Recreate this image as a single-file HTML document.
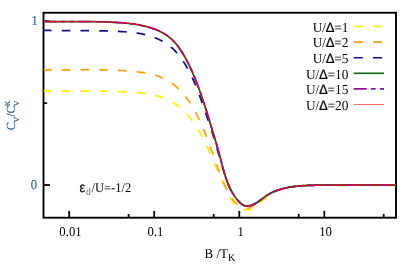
<!DOCTYPE html>
<html><head><meta charset="utf-8"><style>
html,body{margin:0;padding:0;background:#fff;}
svg{display:block;will-change:transform;}
text{font-family:"Liberation Serif",serif;font-size:14.0px;fill:#000;text-rendering:geometricPrecision;}
.sans{font-family:"Liberation Sans",sans-serif;}
.bl{fill:#2e6088;stroke:#2e6088;stroke-width:0.12px;}
.yl text{stroke:#2e6088;stroke-width:0.15px;}
</style></head><body>
<svg width="415" height="277" viewBox="0 0 415 277">
<rect width="415" height="277" fill="#fff"/>
<defs><clipPath id="cp"><rect x="43.5" y="12.75" width="352.5" height="204.95"/></clipPath></defs>
<rect x="43.5" y="12.75" width="352.5" height="204.95" fill="none" stroke="#000" stroke-width="1.9"/>
<g stroke="#000" stroke-width="1.8"><line x1="69.2" y1="217.7" x2="69.2" y2="210.89999999999998"/><line x1="154.2" y1="217.7" x2="154.2" y2="210.89999999999998"/><line x1="239.3" y1="217.7" x2="239.3" y2="210.89999999999998"/><line x1="324.3" y1="217.7" x2="324.3" y2="210.89999999999998"/><line x1="128.6" y1="217.7" x2="128.6" y2="213.89999999999998"/><line x1="213.7" y1="217.7" x2="213.7" y2="213.89999999999998"/><line x1="298.7" y1="217.7" x2="298.7" y2="213.89999999999998"/><line x1="383.7" y1="217.7" x2="383.7" y2="213.89999999999998"/><line x1="43.5" y1="21.25" x2="49.9" y2="21.25"/><line x1="43.5" y1="185.05" x2="49.9" y2="185.05"/><line x1="43.5" y1="103.15" x2="47.1" y2="103.15"/></g>
<g fill="none" stroke-linecap="butt" stroke-linejoin="round" clip-path="url(#cp)">
<path d="M43.50,90.89 L46.50,90.94 L49.50,90.98 L52.50,91.01 L55.50,91.03 L58.50,91.04 L61.50,91.05 L64.50,91.05 L67.50,91.05 L70.50,91.04 L73.50,91.03 L76.50,91.03 L79.50,91.02 L82.50,91.01 L85.50,91.01 L88.50,91.02 L91.50,91.02 L94.50,91.04 L97.50,91.06 L100.00,91.09 L101.50,91.11 L103.00,91.13 L104.50,91.16 L106.00,91.18 L107.50,91.21 L109.00,91.25 L110.50,91.29 L112.00,91.33 L113.50,91.37 L115.00,91.42 L116.50,91.48 L118.00,91.53 L119.50,91.59 L121.00,91.66 L122.50,91.73 L124.00,91.81 L125.50,91.89 L127.00,91.97 L128.50,92.06 L130.00,92.16 L131.50,92.26 L133.00,92.37 L134.50,92.48 L136.00,92.60 L137.50,92.72 L139.00,92.86 L140.50,93.00 L142.00,93.15 L143.50,93.31 L145.00,93.49 L146.50,93.69 L148.00,93.90 L149.50,94.14 L150.00,94.22 L150.50,94.31 L151.00,94.40 L151.50,94.49 L152.00,94.58 L152.50,94.68 L153.00,94.78 L153.50,94.89 L154.00,94.99 L154.50,95.10 L155.00,95.22 L155.50,95.33 L156.00,95.45 L156.50,95.58 L157.00,95.71 L157.50,95.84 L158.00,95.97 L158.50,96.12 L159.00,96.26 L159.50,96.41 L160.00,96.56 L160.50,96.72 L161.00,96.88 L161.50,97.05 L162.00,97.22 L162.50,97.40 L163.00,97.59 L163.50,97.78 L164.00,97.97 L164.50,98.17 L165.00,98.38 L165.50,98.59 L166.00,98.81 L166.50,99.03 L167.00,99.26 L167.50,99.49 L168.00,99.74 L168.50,99.98 L169.00,100.23 L169.50,100.49 L170.00,100.76 L170.50,101.03 L171.00,101.31 L171.50,101.59 L172.00,101.88 L172.50,102.18 L173.00,102.49 L173.50,102.79 L174.00,103.11 L174.50,103.44 L175.00,103.77 L175.50,104.11 L176.00,104.45 L176.50,104.81 L177.00,105.16 L177.50,105.53 L178.00,105.91 L178.50,106.29 L179.00,106.68 L179.50,107.09 L180.00,107.50 L180.50,107.91 L181.00,108.34 L181.50,108.77 L182.00,109.22 L182.50,109.67 L183.00,110.14 L183.50,110.61 L184.00,111.09 L184.50,111.58 L185.00,112.09 L185.50,112.60 L186.00,113.12 L186.50,113.66 L187.00,114.20 L187.50,114.75 L188.00,115.32 L188.50,115.90 L189.00,116.49 L189.50,117.09 L190.00,117.70 L190.50,118.33 L191.00,118.96 L191.50,119.61 L192.00,120.27 L192.50,120.95 L193.00,121.64 L193.50,122.34 L194.00,123.05 L194.50,123.78 L195.00,124.52 L195.50,125.27 L196.00,126.04 L196.50,126.82 L197.00,127.62 L197.50,128.43 L198.00,129.25 L198.50,130.09 L199.00,130.95 L199.50,131.82 L200.00,132.70 L200.50,133.60 L201.00,134.51 L201.50,135.44 L202.00,136.38 L202.50,137.33 L203.00,138.31 L203.50,139.29 L204.00,140.29 L204.50,141.30 L205.00,142.33 L205.50,143.37 L206.00,144.42 L206.50,145.49 L207.00,146.56 L207.50,147.65 L208.00,148.75 L208.50,149.86 L209.00,150.98 L209.50,152.10 L210.00,153.24 L210.50,154.39 L211.00,155.54 L211.50,156.70 L212.00,157.86 L212.50,159.03 L213.00,160.20 L213.50,161.37 L214.00,162.55 L214.50,163.73 L215.00,164.90 L215.50,166.08 L216.00,167.25 L216.50,168.42 L217.00,169.59 L217.50,170.75 L218.00,171.90 L218.50,173.05 L219.00,174.19 L219.50,175.32 L220.00,176.44 L220.50,177.55 L221.00,178.66 L221.50,179.75 L222.00,180.82 L222.50,181.88 L223.00,182.91 L223.50,183.91 L224.00,184.87 L224.50,185.81 L225.00,186.74 L225.50,187.69 L226.00,188.65 L226.50,189.67 L227.00,190.73 L227.50,191.83 L228.00,192.95 L228.50,194.09 L229.00,195.21 L229.50,196.30 L230.00,197.35 L230.50,198.36 L231.00,199.31 L231.50,200.19 L232.00,201.02 L232.50,201.79 L233.00,202.51 L233.50,203.18 L234.00,203.80 L234.50,204.37 L235.00,204.91 L235.50,205.40 L236.00,205.85 L236.50,206.28 L237.00,206.67 L237.50,207.04 L238.00,207.38 L238.50,207.70 L239.00,207.99 L239.50,208.26 L240.00,208.52 L240.50,208.75 L241.00,208.97 L241.50,209.16 L242.00,209.33 L242.50,209.49 L243.00,209.62 L243.50,209.73 L244.00,209.82 L244.50,209.88 L245.00,209.92 L245.50,209.95 L246.00,209.94 L246.50,209.92 L247.00,209.87 L247.50,209.80 L248.00,209.71 L248.50,209.60 L249.00,209.46 L249.50,209.30 L250.00,209.13 L250.50,208.93 L251.00,208.71 L251.50,208.48 L252.00,208.22 L252.50,207.95 L253.00,207.66 L253.50,207.35 L254.00,207.03 L254.50,206.69 L255.00,206.34 L255.50,205.98 L256.00,205.61 L256.50,205.23 L257.00,204.84 L257.50,204.45 L258.00,204.05 L258.50,203.65 L259.00,203.25 L259.50,202.84 L260.00,202.44 L260.50,202.03 L261.00,201.63 L261.50,201.24 L262.00,200.84 L262.50,200.45 L263.00,200.06 L263.50,199.67 L264.00,199.29 L264.50,198.91 L265.00,198.54 L265.50,198.17 L266.00,197.81 L266.50,197.45 L267.00,197.10 L267.50,196.75 L268.00,196.41 L268.50,196.08 L269.00,195.74 L269.50,195.41 L270.00,195.08 L270.50,194.76 L271.00,194.43 L271.50,194.12 L272.00,193.80 L272.50,193.50 L273.00,193.19 L273.50,192.90 L274.00,192.61 L274.50,192.33 L275.00,192.05 L275.50,191.78 L276.00,191.52 L276.50,191.27 L277.00,191.02 L277.50,190.79 L278.00,190.56 L278.50,190.33 L279.00,190.12 L279.50,189.92 L280.00,189.72 L280.50,189.53 L281.00,189.35 L281.50,189.17 L282.00,189.01 L282.50,188.85 L283.00,188.70 L283.50,188.55 L284.00,188.41 L284.50,188.28 L285.00,188.15 L285.50,188.03 L286.00,187.92 L286.50,187.81 L287.00,187.70 L287.50,187.60 L288.00,187.50 L288.50,187.41 L289.00,187.32 L289.50,187.23 L290.00,187.14 L290.50,187.06 L291.00,186.98 L291.50,186.91 L292.00,186.83 L292.50,186.76 L293.00,186.69 L293.50,186.62 L294.00,186.55 L294.50,186.49 L295.00,186.43 L295.50,186.37 L296.00,186.31 L296.50,186.25 L297.00,186.20 L297.50,186.15 L298.00,186.10 L298.50,186.05 L299.00,186.00 L299.50,185.96 L300.00,185.91 L301.50,185.79 L303.00,185.69 L304.50,185.59 L306.00,185.51 L307.50,185.44 L309.00,185.38 L310.50,185.33 L312.00,185.29 L313.50,185.26 L315.00,185.23 L316.50,185.22 L318.00,185.20 L319.50,185.19 L321.00,185.19 L322.50,185.19 L324.00,185.19 L325.50,185.19 L327.00,185.20 L328.50,185.20 L330.00,185.21 L334.00,185.20 L338.00,185.19 L342.00,185.18 L346.00,185.15 L350.00,185.12 L354.00,185.09 L358.00,185.05 L362.00,185.02 L366.00,184.99 L370.00,184.97 L374.00,184.95 L378.00,184.94 L382.00,184.94 L386.00,184.95 L390.00,184.98 L394.00,185.02 L396.00,185.05" stroke="#ffee00" stroke-width="1.75" stroke-dasharray="8.65 10.1" stroke-dashoffset="0.5"/>
<path d="M43.50,69.75 L46.50,69.80 L49.50,69.84 L52.50,69.87 L55.50,69.88 L58.50,69.89 L61.50,69.88 L64.50,69.87 L67.50,69.86 L70.50,69.84 L73.50,69.82 L76.50,69.79 L79.50,69.77 L82.50,69.76 L85.50,69.74 L88.50,69.74 L91.50,69.74 L94.50,69.75 L97.50,69.77 L100.00,69.80 L101.50,69.82 L103.00,69.84 L104.50,69.87 L106.00,69.90 L107.50,69.94 L109.00,69.98 L110.50,70.03 L112.00,70.08 L113.50,70.14 L115.00,70.20 L116.50,70.27 L118.00,70.34 L119.50,70.42 L121.00,70.50 L122.50,70.59 L124.00,70.69 L125.50,70.80 L127.00,70.91 L128.50,71.03 L130.00,71.16 L131.50,71.29 L133.00,71.43 L134.50,71.58 L136.00,71.74 L137.50,71.91 L139.00,72.09 L140.50,72.28 L142.00,72.48 L143.50,72.70 L145.00,72.94 L146.50,73.20 L148.00,73.48 L149.50,73.79 L150.00,73.89 L150.50,74.01 L151.00,74.12 L151.50,74.24 L152.00,74.36 L152.50,74.48 L153.00,74.61 L153.50,74.74 L154.00,74.88 L154.50,75.02 L155.00,75.16 L155.50,75.31 L156.00,75.47 L156.50,75.62 L157.00,75.79 L157.50,75.95 L158.00,76.12 L158.50,76.30 L159.00,76.48 L159.50,76.67 L160.00,76.86 L160.50,77.06 L161.00,77.26 L161.50,77.47 L162.00,77.69 L162.50,77.91 L163.00,78.14 L163.50,78.38 L164.00,78.62 L164.50,78.87 L165.00,79.12 L165.50,79.39 L166.00,79.66 L166.50,79.93 L167.00,80.22 L167.50,80.51 L168.00,80.81 L168.50,81.11 L169.00,81.42 L169.50,81.74 L170.00,82.07 L170.50,82.40 L171.00,82.74 L171.50,83.09 L172.00,83.45 L172.50,83.82 L173.00,84.19 L173.50,84.57 L174.00,84.96 L174.50,85.36 L175.00,85.76 L175.50,86.18 L176.00,86.60 L176.50,87.04 L177.00,87.48 L177.50,87.93 L178.00,88.39 L178.50,88.86 L179.00,89.34 L179.50,89.83 L180.00,90.33 L180.50,90.84 L181.00,91.37 L181.50,91.90 L182.00,92.45 L182.50,93.00 L183.00,93.57 L183.50,94.15 L184.00,94.74 L184.50,95.34 L185.00,95.96 L185.50,96.59 L186.00,97.23 L186.50,97.88 L187.00,98.55 L187.50,99.23 L188.00,99.92 L188.50,100.63 L189.00,101.35 L189.50,102.09 L190.00,102.84 L190.50,103.61 L191.00,104.39 L191.50,105.18 L192.00,105.99 L192.50,106.82 L193.00,107.66 L193.50,108.52 L194.00,109.39 L194.50,110.28 L195.00,111.19 L195.50,112.11 L196.00,113.05 L196.50,114.00 L197.00,114.98 L197.50,115.97 L198.00,116.98 L198.50,118.00 L199.00,119.04 L199.50,120.10 L200.00,121.18 L200.50,122.28 L201.00,123.39 L201.50,124.53 L202.00,125.67 L202.50,126.84 L203.00,128.03 L203.50,129.23 L204.00,130.45 L204.50,131.68 L205.00,132.93 L205.50,134.20 L206.00,135.48 L206.50,136.78 L207.00,138.09 L207.50,139.41 L208.00,140.75 L208.50,142.10 L209.00,143.46 L209.50,144.83 L210.00,146.21 L210.50,147.60 L211.00,149.00 L211.50,150.40 L212.00,151.80 L212.50,153.21 L213.00,154.62 L213.50,156.03 L214.00,157.44 L214.50,158.84 L215.00,160.24 L215.50,161.64 L216.00,163.03 L216.50,164.41 L217.00,165.79 L217.50,167.15 L218.00,168.50 L218.50,169.85 L219.00,171.18 L219.50,172.49 L220.00,173.80 L220.50,175.08 L221.00,176.36 L221.50,177.61 L222.00,178.85 L222.50,180.07 L223.00,181.26 L223.50,182.44 L224.00,183.60 L224.50,184.74 L225.00,185.85 L225.50,186.94 L226.00,188.01 L226.50,189.06 L227.00,190.08 L227.50,191.08 L228.00,192.05 L228.50,192.99 L229.00,193.89 L229.50,194.76 L230.00,195.60 L230.50,196.40 L231.00,197.17 L231.50,197.90 L232.00,198.61 L232.50,199.28 L233.00,199.92 L233.50,200.54 L234.00,201.13 L234.50,201.70 L235.00,202.24 L235.50,202.75 L236.00,203.25 L236.50,203.72 L237.00,204.18 L237.50,204.62 L238.00,205.04 L238.50,205.43 L239.00,205.82 L239.50,206.17 L240.00,206.50 L240.50,206.82 L241.00,207.10 L241.50,207.36 L242.00,207.61 L242.50,207.82 L243.00,208.01 L243.50,208.17 L244.00,208.30 L244.50,208.41 L245.00,208.48 L245.50,208.53 L246.00,208.55 L246.50,208.52 L247.00,208.47 L247.50,208.38 L248.00,208.27 L248.50,208.13 L249.00,207.97 L249.50,207.78 L250.00,207.58 L250.50,207.35 L251.00,207.11 L251.50,206.86 L252.00,206.59 L252.50,206.32 L253.00,206.03 L253.50,205.73 L254.00,205.42 L254.50,205.10 L255.00,204.77 L255.50,204.43 L256.00,204.08 L256.50,203.73 L257.00,203.37 L257.50,203.00 L258.00,202.63 L258.50,202.25 L259.00,201.87 L259.50,201.48 L260.00,201.08 L260.50,200.69 L261.00,200.29 L261.50,199.89 L262.00,199.49 L262.50,199.09 L263.00,198.69 L263.50,198.29 L264.00,197.90 L264.50,197.51 L265.00,197.13 L265.50,196.75 L266.00,196.38 L266.50,196.02 L267.00,195.67 L267.50,195.33 L268.00,194.99 L268.50,194.67 L269.00,194.36 L269.50,194.05 L270.00,193.76 L270.50,193.48 L271.00,193.20 L271.50,192.93 L272.00,192.67 L272.50,192.42 L273.00,192.18 L273.50,191.94 L274.00,191.71 L274.50,191.49 L275.00,191.28 L275.50,191.07 L276.00,190.86 L276.50,190.67 L277.00,190.48 L277.50,190.29 L278.00,190.12 L278.50,189.94 L279.00,189.77 L279.50,189.61 L280.00,189.45 L280.50,189.30 L281.00,189.15 L281.50,189.01 L282.00,188.87 L282.50,188.74 L283.00,188.61 L283.50,188.48 L284.00,188.36 L284.50,188.24 L285.00,188.12 L285.50,188.01 L286.00,187.90 L286.50,187.80 L287.00,187.70 L287.50,187.60 L288.00,187.50 L288.50,187.41 L289.00,187.32 L289.50,187.23 L290.00,187.15 L290.50,187.06 L291.00,186.98 L291.50,186.91 L292.00,186.83 L292.50,186.76 L293.00,186.69 L293.50,186.62 L294.00,186.55 L294.50,186.49 L295.00,186.43 L295.50,186.37 L296.00,186.31 L296.50,186.25 L297.00,186.20 L297.50,186.15 L298.00,186.10 L298.50,186.05 L299.00,186.00 L299.50,185.96 L300.00,185.91 L301.50,185.79 L303.00,185.69 L304.50,185.59 L306.00,185.51 L307.50,185.44 L309.00,185.38 L310.50,185.33 L312.00,185.29 L313.50,185.26 L315.00,185.23 L316.50,185.22 L318.00,185.20 L319.50,185.19 L321.00,185.19 L322.50,185.19 L324.00,185.19 L325.50,185.19 L327.00,185.20 L328.50,185.20 L330.00,185.21 L334.00,185.20 L338.00,185.19 L342.00,185.18 L346.00,185.15 L350.00,185.12 L354.00,185.09 L358.00,185.05 L362.00,185.02 L366.00,184.99 L370.00,184.97 L374.00,184.95 L378.00,184.94 L382.00,184.94 L386.00,184.95 L390.00,184.98 L394.00,185.02 L396.00,185.05" stroke="#ffa010" stroke-width="1.75" stroke-dasharray="8.65 10.1" stroke-dashoffset="0.5"/>
<path d="M43.50,30.40 L46.50,30.44 L49.50,30.48 L52.50,30.51 L55.50,30.54 L58.50,30.56 L61.50,30.57 L64.50,30.58 L67.50,30.59 L70.50,30.60 L73.50,30.61 L76.50,30.62 L79.50,30.63 L82.50,30.64 L85.50,30.66 L88.50,30.68 L91.50,30.71 L94.50,30.75 L97.50,30.79 L100.00,30.84 L101.50,30.87 L103.00,30.90 L104.50,30.94 L106.00,30.98 L107.50,31.02 L109.00,31.07 L110.50,31.12 L112.00,31.17 L113.50,31.23 L115.00,31.29 L116.50,31.35 L118.00,31.42 L119.50,31.49 L121.00,31.57 L122.50,31.66 L124.00,31.75 L125.50,31.85 L127.00,31.97 L128.50,32.09 L130.00,32.23 L131.50,32.38 L133.00,32.55 L134.50,32.74 L136.00,32.94 L137.50,33.17 L139.00,33.41 L140.50,33.68 L142.00,33.98 L143.50,34.30 L145.00,34.64 L146.50,35.02 L148.00,35.43 L149.50,35.86 L150.00,36.02 L150.50,36.18 L151.00,36.34 L151.50,36.50 L152.00,36.67 L152.50,36.84 L153.00,37.02 L153.50,37.20 L154.00,37.39 L154.50,37.58 L155.00,37.77 L155.50,37.97 L156.00,38.17 L156.50,38.38 L157.00,38.59 L157.50,38.81 L158.00,39.03 L158.50,39.26 L159.00,39.50 L159.50,39.73 L160.00,39.98 L160.50,40.23 L161.00,40.48 L161.50,40.75 L162.00,41.01 L162.50,41.29 L163.00,41.57 L163.50,41.86 L164.00,42.15 L164.50,42.45 L165.00,42.76 L165.50,43.07 L166.00,43.40 L166.50,43.73 L167.00,44.07 L167.50,44.42 L168.00,44.78 L168.50,45.14 L169.00,45.52 L169.50,45.90 L170.00,46.30 L170.50,46.71 L171.00,47.13 L171.50,47.56 L172.00,48.00 L172.50,48.45 L173.00,48.92 L173.50,49.40 L174.00,49.89 L174.50,50.40 L175.00,50.91 L175.50,51.44 L176.00,51.99 L176.50,52.54 L177.00,53.11 L177.50,53.70 L178.00,54.30 L178.50,54.91 L179.00,55.53 L179.50,56.17 L180.00,56.83 L180.50,57.49 L181.00,58.18 L181.50,58.87 L182.00,59.58 L182.50,60.31 L183.00,61.05 L183.50,61.80 L184.00,62.57 L184.50,63.35 L185.00,64.15 L185.50,64.96 L186.00,65.79 L186.50,66.64 L187.00,67.50 L187.50,68.38 L188.00,69.28 L188.50,70.19 L189.00,71.13 L189.50,72.08 L190.00,73.05 L190.50,74.04 L191.00,75.05 L191.50,76.08 L192.00,77.13 L192.50,78.20 L193.00,79.29 L193.50,80.41 L194.00,81.54 L194.50,82.70 L195.00,83.87 L195.50,85.07 L196.00,86.29 L196.50,87.53 L197.00,88.79 L197.50,90.08 L198.00,91.38 L198.50,92.70 L199.00,94.04 L199.50,95.40 L200.00,96.77 L200.50,98.16 L201.00,99.56 L201.50,100.98 L202.00,102.41 L202.50,103.84 L203.00,105.29 L203.50,106.74 L204.00,108.19 L204.50,109.65 L205.00,111.10 L205.50,112.55 L206.00,114.00 L206.50,115.45 L207.00,116.89 L207.50,118.34 L208.00,119.79 L208.50,121.24 L209.00,122.70 L209.50,124.16 L210.00,125.64 L210.50,127.12 L211.00,128.62 L211.50,130.14 L212.00,131.67 L212.50,133.22 L213.00,134.80 L213.50,136.40 L214.00,138.03 L214.50,139.70 L215.00,141.38 L215.50,143.09 L216.00,144.81 L216.50,146.54 L217.00,148.28 L217.50,150.03 L218.00,151.77 L218.50,153.51 L219.00,155.24 L219.50,156.97 L220.00,158.68 L220.50,160.38 L221.00,162.08 L221.50,163.77 L222.00,165.46 L222.50,167.14 L223.00,168.81 L223.50,170.46 L224.00,172.09 L224.50,173.69 L225.00,175.26 L225.50,176.79 L226.00,178.27 L226.50,179.71 L227.00,181.11 L227.50,182.45 L228.00,183.73 L228.50,184.97 L229.00,186.15 L229.50,187.27 L230.00,188.35 L230.50,189.37 L231.00,190.35 L231.50,191.28 L232.00,192.17 L232.50,193.02 L233.00,193.84 L233.50,194.63 L234.00,195.39 L234.50,196.13 L235.00,196.84 L235.50,197.53 L236.00,198.19 L236.50,198.84 L237.00,199.46 L237.50,200.06 L238.00,200.64 L238.50,201.20 L239.00,201.74 L239.50,202.25 L240.00,202.73 L240.50,203.19 L241.00,203.61 L241.50,203.99 L242.00,204.35 L242.50,204.68 L243.00,204.96 L243.50,205.22 L244.00,205.43 L244.50,205.61 L245.00,205.77 L245.50,205.87 L246.00,205.96 L246.50,206.00 L247.00,206.03 L247.50,206.02 L248.00,205.99 L248.50,205.94 L249.00,205.86 L249.50,205.77 L250.00,205.65 L250.50,205.53 L251.00,205.38 L251.50,205.22 L252.00,205.03 L252.50,204.84 L253.00,204.63 L253.50,204.41 L254.00,204.17 L254.50,203.92 L255.00,203.66 L255.50,203.38 L256.00,203.10 L256.50,202.79 L257.00,202.48 L257.50,202.15 L258.00,201.82 L258.50,201.48 L259.00,201.12 L259.50,200.76 L260.00,200.40 L260.50,200.02 L261.00,199.65 L261.50,199.26 L262.00,198.88 L262.50,198.50 L263.00,198.12 L263.50,197.74 L264.00,197.37 L264.50,197.00 L265.00,196.64 L265.50,196.29 L266.00,195.95 L266.50,195.61 L267.00,195.29 L267.50,194.98 L268.00,194.67 L268.50,194.38 L269.00,194.09 L269.50,193.81 L270.00,193.54 L270.50,193.27 L271.00,193.01 L271.50,192.76 L272.00,192.52 L272.50,192.29 L273.00,192.05 L273.50,191.83 L274.00,191.62 L274.50,191.41 L275.00,191.20 L275.50,191.00 L276.00,190.81 L276.50,190.62 L277.00,190.44 L277.50,190.26 L278.00,190.09 L278.50,189.92 L279.00,189.76 L279.50,189.60 L280.00,189.44 L280.50,189.29 L281.00,189.15 L281.50,189.01 L282.00,188.87 L282.50,188.74 L283.00,188.61 L283.50,188.48 L284.00,188.36 L284.50,188.24 L285.00,188.12 L285.50,188.01 L286.00,187.90 L286.50,187.80 L287.00,187.70 L287.50,187.60 L288.00,187.50 L288.50,187.41 L289.00,187.32 L289.50,187.23 L290.00,187.15 L290.50,187.06 L291.00,186.98 L291.50,186.91 L292.00,186.83 L292.50,186.76 L293.00,186.69 L293.50,186.62 L294.00,186.55 L294.50,186.49 L295.00,186.43 L295.50,186.37 L296.00,186.31 L296.50,186.25 L297.00,186.20 L297.50,186.15 L298.00,186.10 L298.50,186.05 L299.00,186.00 L299.50,185.96 L300.00,185.91 L301.50,185.79 L303.00,185.69 L304.50,185.59 L306.00,185.51 L307.50,185.44 L309.00,185.38 L310.50,185.33 L312.00,185.29 L313.50,185.26 L315.00,185.23 L316.50,185.22 L318.00,185.20 L319.50,185.19 L321.00,185.19 L322.50,185.19 L324.00,185.19 L325.50,185.19 L327.00,185.20 L328.50,185.20 L330.00,185.21 L334.00,185.20 L338.00,185.19 L342.00,185.18 L346.00,185.15 L350.00,185.12 L354.00,185.09 L358.00,185.05 L362.00,185.02 L366.00,184.99 L370.00,184.97 L374.00,184.95 L378.00,184.94 L382.00,184.94 L386.00,184.95 L390.00,184.98 L394.00,185.02 L396.00,185.05" stroke="#10108c" stroke-width="1.75" stroke-dasharray="8.65 10.1" stroke-dashoffset="0.5"/>
<path d="M43.50,21.45 L46.50,21.51 L49.50,21.55 L52.50,21.58 L55.50,21.60 L58.50,21.62 L61.50,21.62 L64.50,21.63 L67.50,21.62 L70.50,21.62 L73.50,21.61 L76.50,21.61 L79.50,21.61 L82.50,21.61 L85.50,21.62 L88.50,21.64 L91.50,21.66 L94.50,21.70 L97.50,21.75 L100.00,21.80 L101.50,21.83 L103.00,21.87 L104.50,21.91 L106.00,21.96 L107.50,22.01 L109.00,22.07 L110.50,22.13 L112.00,22.20 L113.50,22.27 L115.00,22.35 L116.50,22.43 L118.00,22.52 L119.50,22.62 L121.00,22.73 L122.50,22.84 L124.00,22.97 L125.50,23.10 L127.00,23.25 L128.50,23.40 L130.00,23.58 L131.50,23.76 L133.00,23.96 L134.50,24.18 L136.00,24.41 L137.50,24.66 L139.00,24.92 L140.50,25.21 L142.00,25.52 L143.50,25.85 L145.00,26.20 L146.50,26.58 L148.00,26.98 L149.50,27.41 L150.00,27.56 L150.50,27.72 L151.00,27.88 L151.50,28.04 L152.00,28.21 L152.50,28.38 L153.00,28.55 L153.50,28.73 L154.00,28.91 L154.50,29.09 L155.00,29.29 L155.50,29.48 L156.00,29.68 L156.50,29.88 L157.00,30.09 L157.50,30.31 L158.00,30.52 L158.50,30.75 L159.00,30.98 L159.50,31.22 L160.00,31.46 L160.50,31.70 L161.00,31.96 L161.50,32.22 L162.00,32.48 L162.50,32.76 L163.00,33.03 L163.50,33.32 L164.00,33.62 L164.50,33.92 L165.00,34.23 L165.50,34.55 L166.00,34.87 L166.50,35.21 L167.00,35.55 L167.50,35.91 L168.00,36.27 L168.50,36.65 L169.00,37.03 L169.50,37.43 L170.00,37.84 L170.50,38.26 L171.00,38.69 L171.50,39.14 L172.00,39.60 L172.50,40.08 L173.00,40.57 L173.50,41.08 L174.00,41.60 L174.50,42.14 L175.00,42.70 L175.50,43.27 L176.00,43.86 L176.50,44.46 L177.00,45.08 L177.50,45.72 L178.00,46.38 L178.50,47.05 L179.00,47.73 L179.50,48.44 L180.00,49.16 L180.50,49.90 L181.00,50.65 L181.50,51.42 L182.00,52.21 L182.50,53.01 L183.00,53.83 L183.50,54.67 L184.00,55.52 L184.50,56.39 L185.00,57.27 L185.50,58.17 L186.00,59.09 L186.50,60.03 L187.00,60.98 L187.50,61.94 L188.00,62.92 L188.50,63.92 L189.00,64.93 L189.50,65.96 L190.00,67.01 L190.50,68.07 L191.00,69.14 L191.50,70.23 L192.00,71.34 L192.50,72.47 L193.00,73.61 L193.50,74.78 L194.00,75.96 L194.50,77.16 L195.00,78.37 L195.50,79.61 L196.00,80.86 L196.50,82.14 L197.00,83.43 L197.50,84.74 L198.00,86.08 L198.50,87.43 L199.00,88.80 L199.50,90.18 L200.00,91.59 L200.50,93.01 L201.00,94.46 L201.50,95.92 L202.00,97.39 L202.50,98.88 L203.00,100.39 L203.50,101.91 L204.00,103.44 L204.50,104.99 L205.00,106.55 L205.50,108.11 L206.00,109.69 L206.50,111.27 L207.00,112.85 L207.50,114.44 L208.00,116.04 L208.50,117.65 L209.00,119.25 L209.50,120.87 L210.00,122.49 L210.50,124.12 L211.00,125.76 L211.50,127.40 L212.00,129.05 L212.50,130.71 L213.00,132.38 L213.50,134.06 L214.00,135.75 L214.50,137.44 L215.00,139.15 L215.50,140.87 L216.00,142.59 L216.50,144.33 L217.00,146.08 L217.50,147.84 L218.00,149.62 L218.50,151.41 L219.00,153.21 L219.50,155.02 L220.00,156.86 L220.50,158.70 L221.00,160.57 L221.50,162.45 L222.00,164.34 L222.50,166.22 L223.00,168.07 L223.50,169.90 L224.00,171.68 L224.50,173.40 L225.00,175.06 L225.50,176.66 L226.00,178.20 L226.50,179.66 L227.00,181.07 L227.50,182.41 L228.00,183.69 L228.50,184.91 L229.00,186.08 L229.50,187.20 L230.00,188.27 L230.50,189.29 L231.00,190.27 L231.50,191.21 L232.00,192.11 L232.50,192.97 L233.00,193.81 L233.50,194.61 L234.00,195.38 L234.50,196.12 L235.00,196.83 L235.50,197.53 L236.00,198.19 L236.50,198.84 L237.00,199.46 L237.50,200.06 L238.00,200.64 L238.50,201.20 L239.00,201.74 L239.50,202.25 L240.00,202.73 L240.50,203.19 L241.00,203.61 L241.50,203.99 L242.00,204.35 L242.50,204.68 L243.00,204.96 L243.50,205.22 L244.00,205.43 L244.50,205.61 L245.00,205.77 L245.50,205.87 L246.00,205.96 L246.50,206.00 L247.00,206.03 L247.50,206.02 L248.00,205.99 L248.50,205.94 L249.00,205.86 L249.50,205.77 L250.00,205.65 L250.50,205.53 L251.00,205.38 L251.50,205.22 L252.00,205.03 L252.50,204.84 L253.00,204.63 L253.50,204.41 L254.00,204.17 L254.50,203.92 L255.00,203.66 L255.50,203.38 L256.00,203.10 L256.50,202.79 L257.00,202.48 L257.50,202.15 L258.00,201.82 L258.50,201.48 L259.00,201.12 L259.50,200.76 L260.00,200.40 L260.50,200.02 L261.00,199.65 L261.50,199.26 L262.00,198.88 L262.50,198.50 L263.00,198.12 L263.50,197.74 L264.00,197.37 L264.50,197.00 L265.00,196.64 L265.50,196.29 L266.00,195.95 L266.50,195.61 L267.00,195.29 L267.50,194.98 L268.00,194.67 L268.50,194.38 L269.00,194.09 L269.50,193.81 L270.00,193.54 L270.50,193.27 L271.00,193.01 L271.50,192.76 L272.00,192.52 L272.50,192.29 L273.00,192.05 L273.50,191.83 L274.00,191.62 L274.50,191.41 L275.00,191.20 L275.50,191.00 L276.00,190.81 L276.50,190.62 L277.00,190.44 L277.50,190.26 L278.00,190.09 L278.50,189.92 L279.00,189.76 L279.50,189.60 L280.00,189.44 L280.50,189.29 L281.00,189.15 L281.50,189.01 L282.00,188.87 L282.50,188.74 L283.00,188.61 L283.50,188.48 L284.00,188.36 L284.50,188.24 L285.00,188.12 L285.50,188.01 L286.00,187.90 L286.50,187.80 L287.00,187.70 L287.50,187.60 L288.00,187.50 L288.50,187.41 L289.00,187.32 L289.50,187.23 L290.00,187.15 L290.50,187.06 L291.00,186.98 L291.50,186.91 L292.00,186.83 L292.50,186.76 L293.00,186.69 L293.50,186.62 L294.00,186.55 L294.50,186.49 L295.00,186.43 L295.50,186.37 L296.00,186.31 L296.50,186.25 L297.00,186.20 L297.50,186.15 L298.00,186.10 L298.50,186.05 L299.00,186.00 L299.50,185.96 L300.00,185.91 L301.50,185.79 L303.00,185.69 L304.50,185.59 L306.00,185.51 L307.50,185.44 L309.00,185.38 L310.50,185.33 L312.00,185.29 L313.50,185.26 L315.00,185.23 L316.50,185.22 L318.00,185.20 L319.50,185.19 L321.00,185.19 L322.50,185.19 L324.00,185.19 L325.50,185.19 L327.00,185.20 L328.50,185.20 L330.00,185.21 L334.00,185.20 L338.00,185.19 L342.00,185.18 L346.00,185.15 L350.00,185.12 L354.00,185.09 L358.00,185.05 L362.00,185.02 L366.00,184.99 L370.00,184.97 L374.00,184.95 L378.00,184.94 L382.00,184.94 L386.00,184.95 L390.00,184.98 L394.00,185.02 L396.00,185.05" stroke="#0c6a0c" stroke-width="1.75"/>
<path d="M43.50,21.45 L46.50,21.51 L49.50,21.55 L52.50,21.58 L55.50,21.60 L58.50,21.62 L61.50,21.62 L64.50,21.63 L67.50,21.62 L70.50,21.62 L73.50,21.61 L76.50,21.61 L79.50,21.61 L82.50,21.61 L85.50,21.62 L88.50,21.64 L91.50,21.66 L94.50,21.70 L97.50,21.75 L100.00,21.80 L101.50,21.83 L103.00,21.87 L104.50,21.91 L106.00,21.96 L107.50,22.01 L109.00,22.07 L110.50,22.13 L112.00,22.20 L113.50,22.27 L115.00,22.35 L116.50,22.43 L118.00,22.52 L119.50,22.62 L121.00,22.73 L122.50,22.84 L124.00,22.97 L125.50,23.10 L127.00,23.25 L128.50,23.40 L130.00,23.58 L131.50,23.76 L133.00,23.96 L134.50,24.18 L136.00,24.41 L137.50,24.66 L139.00,24.92 L140.50,25.21 L142.00,25.52 L143.50,25.85 L145.00,26.20 L146.50,26.58 L148.00,26.98 L149.50,27.41 L150.00,27.56 L150.50,27.72 L151.00,27.88 L151.50,28.04 L152.00,28.21 L152.50,28.38 L153.00,28.55 L153.50,28.73 L154.00,28.91 L154.50,29.09 L155.00,29.29 L155.50,29.48 L156.00,29.68 L156.50,29.88 L157.00,30.09 L157.50,30.31 L158.00,30.52 L158.50,30.75 L159.00,30.98 L159.50,31.22 L160.00,31.46 L160.50,31.70 L161.00,31.96 L161.50,32.22 L162.00,32.48 L162.50,32.76 L163.00,33.03 L163.50,33.32 L164.00,33.62 L164.50,33.92 L165.00,34.23 L165.50,34.55 L166.00,34.87 L166.50,35.21 L167.00,35.55 L167.50,35.91 L168.00,36.27 L168.50,36.65 L169.00,37.03 L169.50,37.43 L170.00,37.84 L170.50,38.26 L171.00,38.69 L171.50,39.14 L172.00,39.60 L172.50,40.08 L173.00,40.57 L173.50,41.08 L174.00,41.60 L174.50,42.14 L175.00,42.70 L175.50,43.27 L176.00,43.86 L176.50,44.46 L177.00,45.08 L177.50,45.72 L178.00,46.38 L178.50,47.05 L179.00,47.73 L179.50,48.44 L180.00,49.16 L180.50,49.90 L181.00,50.65 L181.50,51.42 L182.00,52.21 L182.50,53.01 L183.00,53.83 L183.50,54.67 L184.00,55.52 L184.50,56.39 L185.00,57.27 L185.50,58.17 L186.00,59.09 L186.50,60.03 L187.00,60.98 L187.50,61.94 L188.00,62.92 L188.50,63.92 L189.00,64.93 L189.50,65.96 L190.00,67.01 L190.50,68.07 L191.00,69.14 L191.50,70.23 L192.00,71.34 L192.50,72.47 L193.00,73.61 L193.50,74.78 L194.00,75.96 L194.50,77.16 L195.00,78.37 L195.50,79.61 L196.00,80.86 L196.50,82.14 L197.00,83.43 L197.50,84.74 L198.00,86.08 L198.50,87.43 L199.00,88.80 L199.50,90.18 L200.00,91.59 L200.50,93.01 L201.00,94.46 L201.50,95.92 L202.00,97.39 L202.50,98.88 L203.00,100.39 L203.50,101.91 L204.00,103.44 L204.50,104.99 L205.00,106.55 L205.50,108.11 L206.00,109.69 L206.50,111.27 L207.00,112.85 L207.50,114.44 L208.00,116.04 L208.50,117.65 L209.00,119.25 L209.50,120.87 L210.00,122.49 L210.50,124.12 L211.00,125.76 L211.50,127.40 L212.00,129.05 L212.50,130.71 L213.00,132.38 L213.50,134.06 L214.00,135.75 L214.50,137.44 L215.00,139.15 L215.50,140.87 L216.00,142.59 L216.50,144.33 L217.00,146.08 L217.50,147.84 L218.00,149.62 L218.50,151.41 L219.00,153.21 L219.50,155.02 L220.00,156.86 L220.50,158.70 L221.00,160.57 L221.50,162.45 L222.00,164.34 L222.50,166.22 L223.00,168.07 L223.50,169.90 L224.00,171.68 L224.50,173.40 L225.00,175.06 L225.50,176.66 L226.00,178.20 L226.50,179.66 L227.00,181.07 L227.50,182.41 L228.00,183.69 L228.50,184.91 L229.00,186.08 L229.50,187.20 L230.00,188.27 L230.50,189.29 L231.00,190.27 L231.50,191.21 L232.00,192.11 L232.50,192.97 L233.00,193.81 L233.50,194.61 L234.00,195.38 L234.50,196.12 L235.00,196.83 L235.50,197.53 L236.00,198.19 L236.50,198.84 L237.00,199.46 L237.50,200.06 L238.00,200.64 L238.50,201.20 L239.00,201.74 L239.50,202.25 L240.00,202.73 L240.50,203.19 L241.00,203.61 L241.50,203.99 L242.00,204.35 L242.50,204.68 L243.00,204.96 L243.50,205.22 L244.00,205.43 L244.50,205.61 L245.00,205.77 L245.50,205.87 L246.00,205.96 L246.50,206.00 L247.00,206.03 L247.50,206.02 L248.00,205.99 L248.50,205.94 L249.00,205.86 L249.50,205.77 L250.00,205.65 L250.50,205.53 L251.00,205.38 L251.50,205.22 L252.00,205.03 L252.50,204.84 L253.00,204.63 L253.50,204.41 L254.00,204.17 L254.50,203.92 L255.00,203.66 L255.50,203.38 L256.00,203.10 L256.50,202.79 L257.00,202.48 L257.50,202.15 L258.00,201.82 L258.50,201.48 L259.00,201.12 L259.50,200.76 L260.00,200.40 L260.50,200.02 L261.00,199.65 L261.50,199.26 L262.00,198.88 L262.50,198.50 L263.00,198.12 L263.50,197.74 L264.00,197.37 L264.50,197.00 L265.00,196.64 L265.50,196.29 L266.00,195.95 L266.50,195.61 L267.00,195.29 L267.50,194.98 L268.00,194.67 L268.50,194.38 L269.00,194.09 L269.50,193.81 L270.00,193.54 L270.50,193.27 L271.00,193.01 L271.50,192.76 L272.00,192.52 L272.50,192.29 L273.00,192.05 L273.50,191.83 L274.00,191.62 L274.50,191.41 L275.00,191.20 L275.50,191.00 L276.00,190.81 L276.50,190.62 L277.00,190.44 L277.50,190.26 L278.00,190.09 L278.50,189.92 L279.00,189.76 L279.50,189.60 L280.00,189.44 L280.50,189.29 L281.00,189.15 L281.50,189.01 L282.00,188.87 L282.50,188.74 L283.00,188.61 L283.50,188.48 L284.00,188.36 L284.50,188.24 L285.00,188.12 L285.50,188.01 L286.00,187.90 L286.50,187.80 L287.00,187.70 L287.50,187.60 L288.00,187.50 L288.50,187.41 L289.00,187.32 L289.50,187.23 L290.00,187.15 L290.50,187.06 L291.00,186.98 L291.50,186.91 L292.00,186.83 L292.50,186.76 L293.00,186.69 L293.50,186.62 L294.00,186.55 L294.50,186.49 L295.00,186.43 L295.50,186.37 L296.00,186.31 L296.50,186.25 L297.00,186.20 L297.50,186.15 L298.00,186.10 L298.50,186.05 L299.00,186.00 L299.50,185.96 L300.00,185.91 L301.50,185.79 L303.00,185.69 L304.50,185.59 L306.00,185.51 L307.50,185.44 L309.00,185.38 L310.50,185.33 L312.00,185.29 L313.50,185.26 L315.00,185.23 L316.50,185.22 L318.00,185.20 L319.50,185.19 L321.00,185.19 L322.50,185.19 L324.00,185.19 L325.50,185.19 L327.00,185.20 L328.50,185.20 L330.00,185.21 L334.00,185.20 L338.00,185.19 L342.00,185.18 L346.00,185.15 L350.00,185.12 L354.00,185.09 L358.00,185.05 L362.00,185.02 L366.00,184.99 L370.00,184.97 L374.00,184.95 L378.00,184.94 L382.00,184.94 L386.00,184.95 L390.00,184.98 L394.00,185.02 L396.00,185.05" stroke="#94109c" stroke-width="1.75" stroke-dasharray="13 4.2 4.7 4.2 4.7 4.2"/>
<path d="M43.50,21.45 L46.50,21.51 L49.50,21.55 L52.50,21.58 L55.50,21.60 L58.50,21.62 L61.50,21.62 L64.50,21.63 L67.50,21.62 L70.50,21.62 L73.50,21.61 L76.50,21.61 L79.50,21.61 L82.50,21.61 L85.50,21.62 L88.50,21.64 L91.50,21.66 L94.50,21.70 L97.50,21.75 L100.00,21.80 L101.50,21.83 L103.00,21.87 L104.50,21.91 L106.00,21.96 L107.50,22.01 L109.00,22.07 L110.50,22.13 L112.00,22.20 L113.50,22.27 L115.00,22.35 L116.50,22.43 L118.00,22.52 L119.50,22.62 L121.00,22.73 L122.50,22.84 L124.00,22.97 L125.50,23.10 L127.00,23.25 L128.50,23.40 L130.00,23.58 L131.50,23.76 L133.00,23.96 L134.50,24.18 L136.00,24.41 L137.50,24.66 L139.00,24.92 L140.50,25.21 L142.00,25.52 L143.50,25.85 L145.00,26.20 L146.50,26.58 L148.00,26.98 L149.50,27.41 L150.00,27.56 L150.50,27.72 L151.00,27.88 L151.50,28.04 L152.00,28.21 L152.50,28.38 L153.00,28.55 L153.50,28.73 L154.00,28.91 L154.50,29.09 L155.00,29.29 L155.50,29.48 L156.00,29.68 L156.50,29.88 L157.00,30.09 L157.50,30.31 L158.00,30.52 L158.50,30.75 L159.00,30.98 L159.50,31.22 L160.00,31.46 L160.50,31.70 L161.00,31.96 L161.50,32.22 L162.00,32.48 L162.50,32.76 L163.00,33.03 L163.50,33.32 L164.00,33.62 L164.50,33.92 L165.00,34.23 L165.50,34.55 L166.00,34.87 L166.50,35.21 L167.00,35.55 L167.50,35.91 L168.00,36.27 L168.50,36.65 L169.00,37.03 L169.50,37.43 L170.00,37.84 L170.50,38.26 L171.00,38.69 L171.50,39.14 L172.00,39.60 L172.50,40.08 L173.00,40.57 L173.50,41.08 L174.00,41.60 L174.50,42.14 L175.00,42.70 L175.50,43.27 L176.00,43.86 L176.50,44.46 L177.00,45.08 L177.50,45.72 L178.00,46.38 L178.50,47.05 L179.00,47.73 L179.50,48.44 L180.00,49.16 L180.50,49.90 L181.00,50.65 L181.50,51.42 L182.00,52.21 L182.50,53.01 L183.00,53.83 L183.50,54.67 L184.00,55.52 L184.50,56.39 L185.00,57.27 L185.50,58.17 L186.00,59.09 L186.50,60.03 L187.00,60.98 L187.50,61.94 L188.00,62.92 L188.50,63.92 L189.00,64.93 L189.50,65.96 L190.00,67.01 L190.50,68.07 L191.00,69.14 L191.50,70.23 L192.00,71.34 L192.50,72.47 L193.00,73.61 L193.50,74.78 L194.00,75.96 L194.50,77.16 L195.00,78.37 L195.50,79.61 L196.00,80.86 L196.50,82.14 L197.00,83.43 L197.50,84.74 L198.00,86.08 L198.50,87.43 L199.00,88.80 L199.50,90.18 L200.00,91.59 L200.50,93.01 L201.00,94.46 L201.50,95.92 L202.00,97.39 L202.50,98.88 L203.00,100.39 L203.50,101.91 L204.00,103.44 L204.50,104.99 L205.00,106.55 L205.50,108.11 L206.00,109.69 L206.50,111.27 L207.00,112.85 L207.50,114.44 L208.00,116.04 L208.50,117.65 L209.00,119.25 L209.50,120.87 L210.00,122.49 L210.50,124.12 L211.00,125.76 L211.50,127.40 L212.00,129.05 L212.50,130.71 L213.00,132.38 L213.50,134.06 L214.00,135.75 L214.50,137.44 L215.00,139.15 L215.50,140.87 L216.00,142.59 L216.50,144.33 L217.00,146.08 L217.50,147.84 L218.00,149.62 L218.50,151.41 L219.00,153.21 L219.50,155.02 L220.00,156.86 L220.50,158.70 L221.00,160.57 L221.50,162.45 L222.00,164.34 L222.50,166.22 L223.00,168.07 L223.50,169.90 L224.00,171.68 L224.50,173.40 L225.00,175.06 L225.50,176.66 L226.00,178.20 L226.50,179.66 L227.00,181.07 L227.50,182.41 L228.00,183.69 L228.50,184.91 L229.00,186.08 L229.50,187.20 L230.00,188.27 L230.50,189.29 L231.00,190.27 L231.50,191.21 L232.00,192.11 L232.50,192.97 L233.00,193.81 L233.50,194.61 L234.00,195.38 L234.50,196.12 L235.00,196.83 L235.50,197.53 L236.00,198.19 L236.50,198.84 L237.00,199.46 L237.50,200.06 L238.00,200.64 L238.50,201.20 L239.00,201.74 L239.50,202.25 L240.00,202.73 L240.50,203.19 L241.00,203.61 L241.50,203.99 L242.00,204.35 L242.50,204.68 L243.00,204.96 L243.50,205.22 L244.00,205.43 L244.50,205.61 L245.00,205.77 L245.50,205.87 L246.00,205.96 L246.50,206.00 L247.00,206.03 L247.50,206.02 L248.00,205.99 L248.50,205.94 L249.00,205.86 L249.50,205.77 L250.00,205.65 L250.50,205.53 L251.00,205.38 L251.50,205.22 L252.00,205.03 L252.50,204.84 L253.00,204.63 L253.50,204.41 L254.00,204.17 L254.50,203.92 L255.00,203.66 L255.50,203.38 L256.00,203.10 L256.50,202.79 L257.00,202.48 L257.50,202.15 L258.00,201.82 L258.50,201.48 L259.00,201.12 L259.50,200.76 L260.00,200.40 L260.50,200.02 L261.00,199.65 L261.50,199.26 L262.00,198.88 L262.50,198.50 L263.00,198.12 L263.50,197.74 L264.00,197.37 L264.50,197.00 L265.00,196.64 L265.50,196.29 L266.00,195.95 L266.50,195.61 L267.00,195.29 L267.50,194.98 L268.00,194.67 L268.50,194.38 L269.00,194.09 L269.50,193.81 L270.00,193.54 L270.50,193.27 L271.00,193.01 L271.50,192.76 L272.00,192.52 L272.50,192.29 L273.00,192.05 L273.50,191.83 L274.00,191.62 L274.50,191.41 L275.00,191.20 L275.50,191.00 L276.00,190.81 L276.50,190.62 L277.00,190.44 L277.50,190.26 L278.00,190.09 L278.50,189.92 L279.00,189.76 L279.50,189.60 L280.00,189.44 L280.50,189.29 L281.00,189.15 L281.50,189.01 L282.00,188.87 L282.50,188.74 L283.00,188.61 L283.50,188.48 L284.00,188.36 L284.50,188.24 L285.00,188.12 L285.50,188.01 L286.00,187.90 L286.50,187.80 L287.00,187.70 L287.50,187.60 L288.00,187.50 L288.50,187.41 L289.00,187.32 L289.50,187.23 L290.00,187.15 L290.50,187.06 L291.00,186.98 L291.50,186.91 L292.00,186.83 L292.50,186.76 L293.00,186.69 L293.50,186.62 L294.00,186.55 L294.50,186.49 L295.00,186.43 L295.50,186.37 L296.00,186.31 L296.50,186.25 L297.00,186.20 L297.50,186.15 L298.00,186.10 L298.50,186.05 L299.00,186.00 L299.50,185.96 L300.00,185.91 L301.50,185.79 L303.00,185.69 L304.50,185.59 L306.00,185.51 L307.50,185.44 L309.00,185.38 L310.50,185.33 L312.00,185.29 L313.50,185.26 L315.00,185.23 L316.50,185.22 L318.00,185.20 L319.50,185.19 L321.00,185.19 L322.50,185.19 L324.00,185.19 L325.50,185.19 L327.00,185.20 L328.50,185.20 L330.00,185.21 L334.00,185.20 L338.00,185.19 L342.00,185.18 L346.00,185.15 L350.00,185.12 L354.00,185.09 L358.00,185.05 L362.00,185.02 L366.00,184.99 L370.00,184.97 L374.00,184.95 L378.00,184.94 L382.00,184.94 L386.00,184.95 L390.00,184.98 L394.00,185.02 L396.00,185.05" stroke="#f00018" stroke-width="1.0"/>
</g>
<g transform="translate(70.50,235.90) scale(0.95,1)"><text text-anchor="middle" style="font-size:13.4px">0.01</text></g><g transform="translate(155.53,235.90) scale(0.95,1)"><text text-anchor="middle" style="font-size:13.4px">0.1</text></g><g transform="translate(240.56,235.90) scale(0.95,1)"><text text-anchor="middle" style="font-size:13.4px">1</text></g><g transform="translate(325.59,235.90) scale(0.95,1)"><text text-anchor="middle" style="font-size:13.4px">10</text></g>
<g transform="translate(37.70,24.90) scale(0.935,1)"><text text-anchor="end" class="bl" style="font-size:13.4px">1</text></g>
<g transform="translate(37.00,189.00) scale(0.935,1)"><text text-anchor="end" class="bl" style="font-size:13.4px">0</text></g>
<g transform="translate(204.60,257.60) scale(0.968,1)"><text text-anchor="start" style="font-size:13.4px">B /T<tspan style="font-size:10.4px" dy="3.2">K</tspan></text></g>
<g transform="translate(79.50,191.60) scale(0.935,1)"><text text-anchor="start" style="font-size:13.4px"><tspan class="sans" style="font-size:13.8px;stroke:#000;stroke-width:0.15px">ε</tspan><tspan style="font-size:10.4px" dy="3.5" dx="0.8" fill="#566c82">d</tspan><tspan dy="-3.5" dx="0.6">/U=-1/2</tspan></text></g>
<g class="yl" transform="translate(15.4,130.2) rotate(-90)">
<text class="bl" x="0" y="0" style="font-size:12.4px">C</text>
<text class="bl" x="7.9" y="3.3" style="font-size:7.3px">V</text>
<text class="bl" x="13.4" y="0" style="font-size:12.4px">/</text>
<text class="bl" x="16.6" y="0" style="font-size:12.4px">C</text>
<text class="bl" x="24.3" y="3.3" style="font-size:7.3px">V</text>
<text class="bl" x="24.3" y="-5.5" style="font-size:7.3px">K</text>
</g>
<g transform="translate(348.35,31.70) scale(0.968,1)"><text text-anchor="end" style="font-size:13.8px">U/<tspan class="sans" dx="-0.3" style="font-size:13.6px;stroke:#000;stroke-width:0.22px">Δ</tspan><tspan dx="-0.4">=1</tspan></text></g><line x1="353.7" y1="26.5" x2="384" y2="26.5" stroke="#ffee00" stroke-width="1.6" stroke-dasharray="9.1 10.2"/><g transform="translate(348.35,47.30) scale(0.968,1)"><text text-anchor="end" style="font-size:13.8px">U/<tspan class="sans" dx="-0.3" style="font-size:13.6px;stroke:#000;stroke-width:0.22px">Δ</tspan><tspan dx="-0.4">=2</tspan></text></g><line x1="353.7" y1="42.1" x2="384" y2="42.1" stroke="#ffa010" stroke-width="1.6" stroke-dasharray="9.1 10.2"/><g transform="translate(348.35,62.90) scale(0.968,1)"><text text-anchor="end" style="font-size:13.8px">U/<tspan class="sans" dx="-0.3" style="font-size:13.6px;stroke:#000;stroke-width:0.22px">Δ</tspan><tspan dx="-0.4">=5</tspan></text></g><line x1="353.7" y1="57.7" x2="384" y2="57.7" stroke="#10108c" stroke-width="1.6" stroke-dasharray="9.1 10.2"/><g transform="translate(348.35,78.50) scale(0.968,1)"><text text-anchor="end" style="font-size:13.8px">U/<tspan class="sans" dx="-0.3" style="font-size:13.6px;stroke:#000;stroke-width:0.22px">Δ</tspan><tspan dx="-0.4">=10</tspan></text></g><line x1="353.7" y1="73.3" x2="384" y2="73.3" stroke="#0c6a0c" stroke-width="1.6"/><g transform="translate(348.35,94.10) scale(0.968,1)"><text text-anchor="end" style="font-size:13.8px">U/<tspan class="sans" dx="-0.3" style="font-size:13.6px;stroke:#000;stroke-width:0.22px">Δ</tspan><tspan dx="-0.4">=15</tspan></text></g><line x1="353.7" y1="88.9" x2="384" y2="88.9" stroke="#94109c" stroke-width="1.9" stroke-dasharray="13 4.2 4.7 4.2 4.7 4.2"/><g transform="translate(348.35,109.70) scale(0.968,1)"><text text-anchor="end" style="font-size:13.8px">U/<tspan class="sans" dx="-0.3" style="font-size:13.6px;stroke:#000;stroke-width:0.22px">Δ</tspan><tspan dx="-0.4">=20</tspan></text></g><line x1="353.7" y1="104.5" x2="384" y2="104.5" stroke="#ff5a5a" stroke-width="0.9"/>
</svg>
</body></html>
